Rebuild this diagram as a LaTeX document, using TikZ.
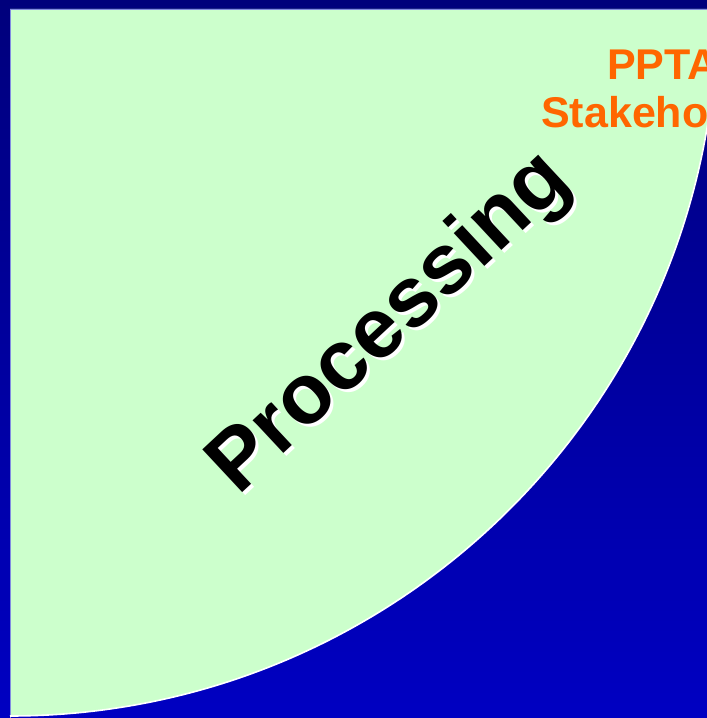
\documentclass[tikz,border=0pt]{standalone}
\usepackage{fontspec}
\setmainfont{Liberation Sans}
\usetikzlibrary{positioning,calc}
\definecolor{navytop}{RGB}{0,0,124}
\definecolor{navybot}{RGB}{0,0,194}
\definecolor{mint}{RGB}{204,255,204}
\definecolor{rimblue}{RGB}{130,140,225}
\definecolor{pumpkin}{RGB}{255,102,0}
\begin{document}
\begin{tikzpicture}[x=1pt,y=1pt,
					quarter/.style={fill=mint},
					rim/.style={draw=white, line width=1.6pt},
					bigword/.style={inner sep=0pt, rotate=43, font=\fontsize{85}{100}\selectfont\bfseries},
					tag/.style={inner sep=0pt, anchor=base west, text=pumpkin, font=\fontsize{43}{50}\selectfont\bfseries}]
				\useasboundingbox (0,0) rectangle (707,718);
				\clip (0,0) rectangle (707,718);
				\shade[top color=navytop, bottom color=navybot] (0,0) rectangle (707,718);
				\coordinate (c) at (10,709);
				\fill[quarter] (c) -- ++(707,0) arc[start angle=0, end angle=-90, radius=707] -- cycle;
				\draw[rimblue, line width=0.8pt] (10,0) -- (c) -- (707,709);
				\draw[rim] ($(c)+(707,0)$) arc[start angle=0, end angle=-90, radius=707];
				\node[bigword, text=white] (procshadow) at (394,391) {Processing};
				\node[bigword, text=black] (proc) at (391,394) {Processing};
				\node[tag] (ppta) at (607,638) {PPTA};
				\node[tag] (stake) at (541,590) {Stakeho};
			\end{tikzpicture}
\end{document}
